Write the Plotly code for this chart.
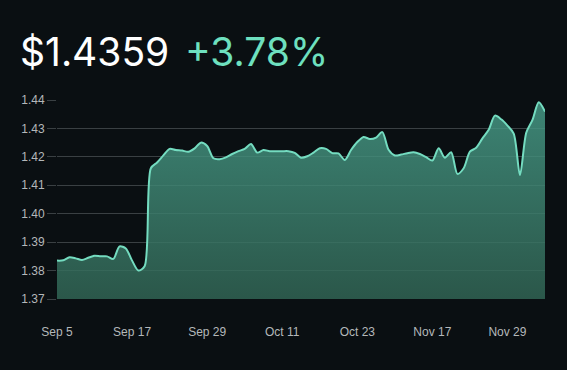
import plotly.graph_objects as go

price = [
    1.3835, 1.3836, 1.3847, 1.3843, 1.3837, 1.3845, 1.3852, 1.3850, 1.3850, 1.3841,
    1.3885, 1.3878, 1.3835, 1.3800, 1.3815, 1.4160, 1.4180, 1.4205, 1.4228, 1.4224,
    1.4222, 1.4218, 1.4230, 1.4250, 1.4238, 1.4195, 1.4192, 1.4198, 1.4210, 1.4220,
    1.4228, 1.4245, 1.4215, 1.4224, 1.4220, 1.4220, 1.4220, 1.4220, 1.4214, 1.4197,
    1.4202, 1.4215, 1.4230, 1.4228, 1.4213, 1.4212, 1.4189, 1.4224, 1.4252, 1.4270,
    1.4263, 1.4268, 1.4287, 1.4225, 1.4205, 1.4208, 1.4213, 1.4216, 1.4210, 1.4199,
    1.4187, 1.4230, 1.4197, 1.4216, 1.4140, 1.4160, 1.4218, 1.4232, 1.4265, 1.4295,
    1.4345, 1.4332, 1.4310, 1.4282, 1.4136, 1.4285, 1.4330, 1.4392, 1.4359,
]
x_idx = list(range(len(price)))
x_labels = ["Sep 5", "Sep 17", "Sep 29", "Oct 11", "Oct 23", "Nov 17", "Nov 29"]
x_label_idx = [0, 12, 24, 36, 48, 60, 72]
y_ticks = [1.37, 1.38, 1.39, 1.40, 1.41, 1.42, 1.43, 1.44]
headline_price = "$1.4359"
headline_change = "+3.78%"

BG = "#0a0f12"
LINE = "#74dcc0"
GRID = "#3a4043"
TXT = "#b4b8ba"
TICKFONT = dict(family="Liberation Sans, Arial, sans-serif", size=12, color=TXT)

fig = go.Figure()
fig.add_trace(go.Scatter(
    x=x_idx, y=price, mode="lines",
    line=dict(color=LINE, width=2, shape="spline", smoothing=0.8),
    fill="tozeroy",
    fillgradient=dict(type="vertical", start=1.37, stop=1.44,
                      colorscale=[[0, "rgba(50,103,86,0.82)"], [1, "rgba(72,158,138,0.82)"]]),
    hoverinfo="skip",
))

annotations = [
    dict(x=-0.08, xref="paper", y=1.245, yref="paper", text=headline_price,
         showarrow=False, xanchor="left", yanchor="middle",
         font=dict(family="Inter, sans-serif", size=39, color="#ffffff")),
    dict(x=0.258, xref="paper", y=1.245, yref="paper", text=headline_change,
         showarrow=False, xanchor="left", yanchor="middle",
         font=dict(family="Inter, sans-serif", size=39, color="#6ee0bf")),
]

fig.update_layout(
    width=567, height=370,
    margin=dict(l=57, r=22, t=100, b=71),
    paper_bgcolor=BG, plot_bgcolor=BG,
    showlegend=False,
    annotations=annotations,
    xaxis=dict(range=[0, len(price) - 1], showgrid=False, zeroline=False,
               tickvals=x_label_idx, ticktext=x_labels, ticks="",
               ticklabelstandoff=24, showline=False, fixedrange=True,
               tickfont=TICKFONT),
    yaxis=dict(range=[1.37, 1.44], tickvals=y_ticks,
               ticktext=[f"{v:.2f}" for v in y_ticks],
               showgrid=True, gridcolor=GRID, gridwidth=1, zeroline=False,
               ticks="outside", ticklen=9, tickcolor=GRID, tickwidth=1,
               showline=False, tickfont=TICKFONT),
)

fig.write_html("out.html")
